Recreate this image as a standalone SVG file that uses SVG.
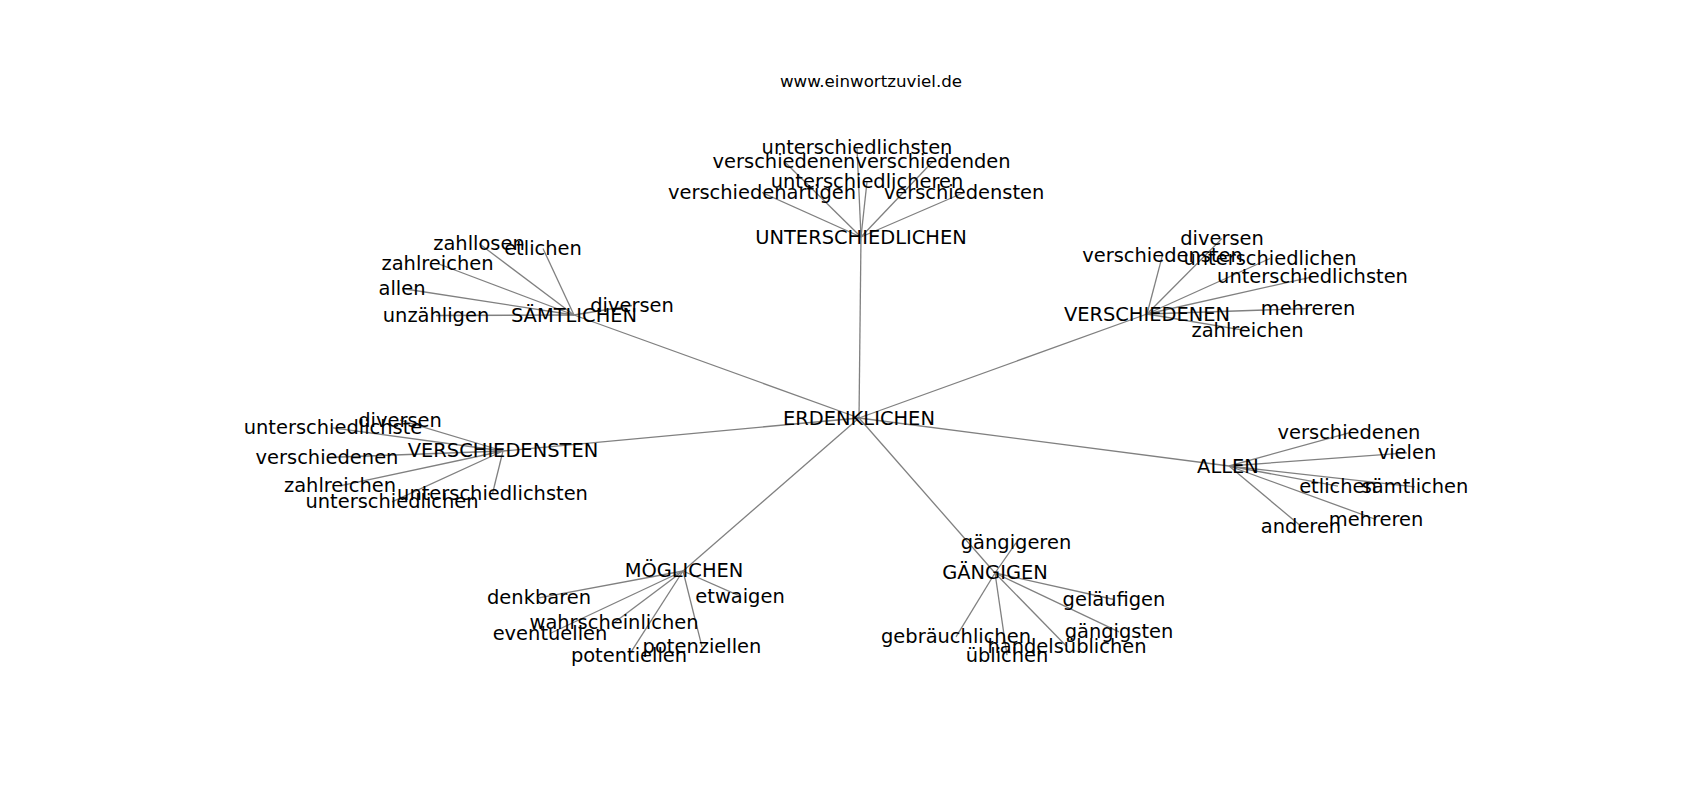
<svg xmlns="http://www.w3.org/2000/svg" width="1700" height="800" viewBox="0 0 1700 800">
<style>
.e{stroke:#808080;stroke-width:1.3;fill:none}
.l{font-family:"DejaVu Sans",sans-serif;font-size:19.44px;text-anchor:middle;fill:#000}
.t{font-family:"DejaVu Sans",sans-serif;font-size:16.67px;text-anchor:middle;fill:#000}
</style>
<rect width="1700" height="800" fill="#fff"/>
<text class="t" x="871" y="87.3">www.einwortzuviel.de</text>
<g id="edges">
<line class="e" x1="859" y1="418" x2="861" y2="237"/>
<line class="e" x1="859" y1="418" x2="574" y2="315"/>
<line class="e" x1="859" y1="418" x2="1147" y2="314"/>
<line class="e" x1="859" y1="418" x2="503" y2="451"/>
<line class="e" x1="859" y1="418" x2="1229" y2="466"/>
<line class="e" x1="859" y1="418" x2="683" y2="571"/>
<line class="e" x1="859" y1="418" x2="995" y2="573"/>
<line class="e" x1="861" y1="237" x2="857" y2="147.8"/>
<line class="e" x1="861" y1="237" x2="784" y2="161.2"/>
<line class="e" x1="861" y1="237" x2="933" y2="161.2"/>
<line class="e" x1="861" y1="237" x2="867" y2="181.8"/>
<line class="e" x1="861" y1="237" x2="762" y2="192.5"/>
<line class="e" x1="861" y1="237" x2="964" y2="192.5"/>
<line class="e" x1="574" y1="315" x2="479" y2="243.5"/>
<line class="e" x1="574" y1="315" x2="543" y2="248.5"/>
<line class="e" x1="574" y1="315" x2="437.5" y2="263.5"/>
<line class="e" x1="574" y1="315" x2="402" y2="288.5"/>
<line class="e" x1="574" y1="315" x2="436" y2="315.5"/>
<line class="e" x1="574" y1="315" x2="632" y2="305.5"/>
<line class="e" x1="1147" y1="314" x2="1222" y2="238.5"/>
<line class="e" x1="1147" y1="314" x2="1162.5" y2="255.2"/>
<line class="e" x1="1147" y1="314" x2="1270" y2="258.5"/>
<line class="e" x1="1147" y1="314" x2="1312.5" y2="276.8"/>
<line class="e" x1="1147" y1="314" x2="1308" y2="308.5"/>
<line class="e" x1="1147" y1="314" x2="1247.5" y2="330.8"/>
<line class="e" x1="503" y1="451" x2="400" y2="420.2"/>
<line class="e" x1="503" y1="451" x2="333" y2="427.8"/>
<line class="e" x1="503" y1="451" x2="327" y2="457.5"/>
<line class="e" x1="503" y1="451" x2="340" y2="485.8"/>
<line class="e" x1="503" y1="451" x2="492.5" y2="493.5"/>
<line class="e" x1="503" y1="451" x2="392" y2="501.8"/>
<line class="e" x1="1229" y1="466" x2="1349" y2="432.8"/>
<line class="e" x1="1229" y1="466" x2="1407" y2="452.8"/>
<line class="e" x1="1229" y1="466" x2="1338" y2="486.2"/>
<line class="e" x1="1229" y1="466" x2="1415" y2="486.8"/>
<line class="e" x1="1229" y1="466" x2="1376" y2="519.5"/>
<line class="e" x1="1229" y1="466" x2="1301" y2="526.2"/>
<line class="e" x1="683" y1="571" x2="539" y2="597.8"/>
<line class="e" x1="683" y1="571" x2="740" y2="596.2"/>
<line class="e" x1="683" y1="571" x2="614" y2="622.8"/>
<line class="e" x1="683" y1="571" x2="550" y2="633.5"/>
<line class="e" x1="683" y1="571" x2="702" y2="646.8"/>
<line class="e" x1="683" y1="571" x2="629" y2="655.2"/>
<line class="e" x1="995" y1="573" x2="1016" y2="542.8"/>
<line class="e" x1="995" y1="573" x2="1114" y2="599.5"/>
<line class="e" x1="995" y1="573" x2="956" y2="636.8"/>
<line class="e" x1="995" y1="573" x2="1119" y2="631.8"/>
<line class="e" x1="995" y1="573" x2="1067" y2="646.8"/>
<line class="e" x1="995" y1="573" x2="1007" y2="655.2"/>
</g>
<g id="n-erdenklichen"><text class="l" x="859" y="424.5">ERDENKLICHEN</text></g>
<g id="n-unterschiedlichen"><text class="l" x="861" y="244">UNTERSCHIEDLICHEN</text></g>
<g id="n-saemtlichen"><text class="l" x="574" y="322">SÄMTLICHEN</text></g>
<g id="n-verschiedenen"><text class="l" x="1147" y="320.7">VERSCHIEDENEN</text></g>
<g id="n-verschiedensten"><text class="l" x="503" y="457.3">VERSCHIEDENSTEN</text></g>
<g id="n-allen"><text class="l" x="1228" y="472.7">ALLEN</text></g>
<g id="n-moeglichen"><text class="l" x="684" y="576.7">MÖGLICHEN</text></g>
<g id="n-gaengigen"><text class="l" x="995" y="579">GÄNGIGEN</text></g>
<g id="n-u-unterschiedlichsten"><text class="l" x="857" y="154.3">unterschiedlichsten</text></g>
<g id="n-u-verschiedenen"><text class="l" x="784" y="167.7">verschiedenen</text></g>
<g id="n-u-verschiedenden"><text class="l" x="933" y="167.7">verschiedenden</text></g>
<g id="n-u-unterschiedlicheren"><text class="l" x="867" y="188.3">unterschiedlicheren</text></g>
<g id="n-u-verschiedenartigen"><text class="l" x="762" y="199">verschiedenartigen</text></g>
<g id="n-u-verschiedensten"><text class="l" x="964" y="199">verschiedensten</text></g>
<g id="n-s-zahllosen"><text class="l" x="479" y="250">zahllosen</text></g>
<g id="n-s-etlichen"><text class="l" x="543" y="255">etlichen</text></g>
<g id="n-s-zahlreichen"><text class="l" x="437.5" y="270">zahlreichen</text></g>
<g id="n-s-allen"><text class="l" x="402" y="295">allen</text></g>
<g id="n-s-unzaehligen"><text class="l" x="436" y="322">unzähligen</text></g>
<g id="n-s-diversen"><text class="l" x="632" y="312">diversen</text></g>
<g id="n-v-diversen"><text class="l" x="1222" y="245">diversen</text></g>
<g id="n-v-verschiedensten"><text class="l" x="1162.5" y="261.7">verschiedensten</text></g>
<g id="n-v-unterschiedlichen"><text class="l" x="1270" y="265">unterschiedlichen</text></g>
<g id="n-v-unterschiedlichsten"><text class="l" x="1312.5" y="283.3">unterschiedlichsten</text></g>
<g id="n-v-mehreren"><text class="l" x="1308" y="315">mehreren</text></g>
<g id="n-v-zahlreichen"><text class="l" x="1247.5" y="337.3">zahlreichen</text></g>
<g id="n-vs-diversen"><text class="l" x="400" y="426.7">diversen</text></g>
<g id="n-vs-unterschiedlichste"><text class="l" x="333" y="434.3">unterschiedlichste</text></g>
<g id="n-vs-verschiedenen"><text class="l" x="327" y="464">verschiedenen</text></g>
<g id="n-vs-zahlreichen"><text class="l" x="340" y="492.3">zahlreichen</text></g>
<g id="n-vs-unterschiedlichsten"><text class="l" x="492.5" y="500">unterschiedlichsten</text></g>
<g id="n-vs-unterschiedlichen"><text class="l" x="392" y="508.3">unterschiedlichen</text></g>
<g id="n-a-verschiedenen"><text class="l" x="1349" y="439.3">verschiedenen</text></g>
<g id="n-a-vielen"><text class="l" x="1407" y="459.3">vielen</text></g>
<g id="n-a-etlichen"><text class="l" x="1338" y="492.7">etlichen</text></g>
<g id="n-a-saemtlichen"><text class="l" x="1415" y="493.3">sämtlichen</text></g>
<g id="n-a-mehreren"><text class="l" x="1376" y="526">mehreren</text></g>
<g id="n-a-anderen"><text class="l" x="1301" y="532.7">anderen</text></g>
<g id="n-m-denkbaren"><text class="l" x="539" y="604.3">denkbaren</text></g>
<g id="n-m-etwaigen"><text class="l" x="740" y="602.7">etwaigen</text></g>
<g id="n-m-wahrscheinlichen"><text class="l" x="614" y="629.3">wahrscheinlichen</text></g>
<g id="n-m-eventuellen"><text class="l" x="550" y="640">eventuellen</text></g>
<g id="n-m-potenziellen"><text class="l" x="702" y="653.3">potenziellen</text></g>
<g id="n-m-potentiellen"><text class="l" x="629" y="661.7">potentiellen</text></g>
<g id="n-g-gaengigeren"><text class="l" x="1016" y="549.3">gängigeren</text></g>
<g id="n-g-gelaeufigen"><text class="l" x="1114" y="606">geläufigen</text></g>
<g id="n-g-gebraeuchlichen"><text class="l" x="956" y="643.3">gebräuchlichen</text></g>
<g id="n-g-gaengigsten"><text class="l" x="1119" y="638.3">gängigsten</text></g>
<g id="n-g-handelsueblichen"><text class="l" x="1067" y="653.3">handelsüblichen</text></g>
<g id="n-g-ueblichen"><text class="l" x="1007" y="661.7">üblichen</text></g>
</svg>
